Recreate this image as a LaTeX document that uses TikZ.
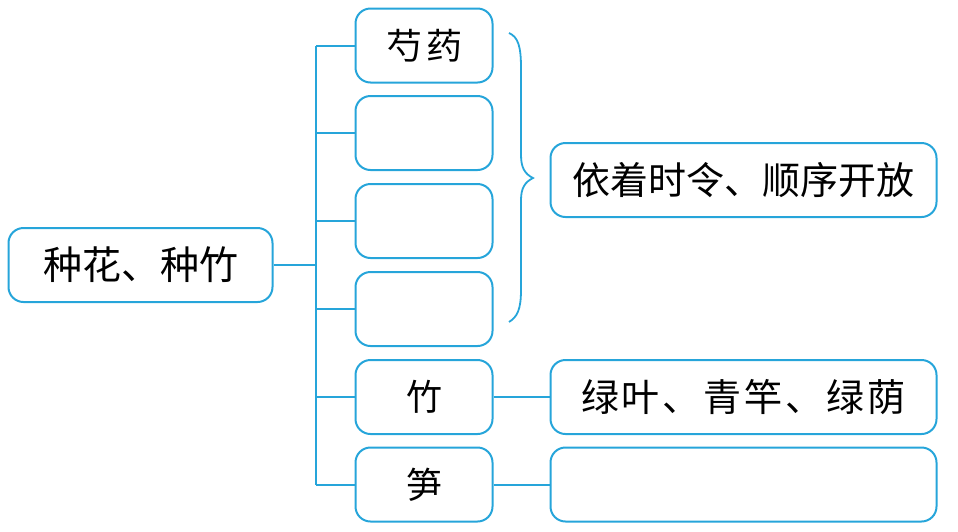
\documentclass[tikz,border=0pt]{standalone}
\usepackage{fontspec}
\newfontfamily\cjk{Noto Sans CJK SC}
\definecolor{lineblue}{RGB}{38,165,218}
\begin{document}
\begin{tikzpicture}[x=1pt,y=-1pt,
  box/.style={draw=lineblue,line width=2pt,rounded corners=15pt,inner sep=0pt,
    minimum height=74pt,text=black,font=\cjk\fontsize{36}{40}\selectfont},
  leftbox/.style={box,minimum width=137pt},
  rightbox/.style={box,minimum width=386pt,font=\cjk\fontsize{38}{42}\selectfont},
  conn/.style={draw=lineblue,line width=2pt}]
\useasboundingbox (0,0) rectangle (958,531);
\node[box,minimum width=264pt,font=\cjk\fontsize{39}{42}\selectfont] (root) at (140.5,265) {种花、种竹};
\node[leftbox] (c1) at (424,45.5) {芍\hspace{4pt}药};
\node[leftbox] (c2) at (424,133) {};
\node[leftbox] (c3) at (424,221) {};
\node[leftbox] (c4) at (424,309) {};
\node[leftbox] (c5) at (424,397) {竹};
\node[leftbox] (c6) at (424,484.5) {笋};
\node[rightbox] (r1) at (743.5,180) {依着时令、顺序开放};
\node[rightbox] (r2) at (743.5,397) {绿\hspace{3pt}叶\hspace{3pt}、\hspace{3pt}青\hspace{3pt}竿\hspace{3pt}、\hspace{3pt}绿\hspace{3pt}荫};
\node[rightbox] (r3) at (743.5,484.5) {};
\coordinate (sp) at (316,0);
\draw[conn] (c1.west -| sp) -- (c6.west -| sp);
\draw[conn] (root.east) -- (root.east -| sp);
\foreach \c in {c1,c2,c3,c4,c5,c6} \draw[conn] (\c.west -| sp) -- (\c.west);
\draw[conn] (c5.east) -- (r2.west);
\draw[conn] (c6.east) -- (r3.west);
% brace
\draw[draw=lineblue,line width=1.8pt]
  (509,33) .. controls (518,37) and (521,46) .. (521,68)
  -- (521,155) .. controls (521,168) and (525,174) .. (533,178)
  .. controls (525,182) and (521,188) .. (521,200)
  -- (521,290) .. controls (521,310) and (517,317) .. (509,322);
\end{tikzpicture}
\end{document}
